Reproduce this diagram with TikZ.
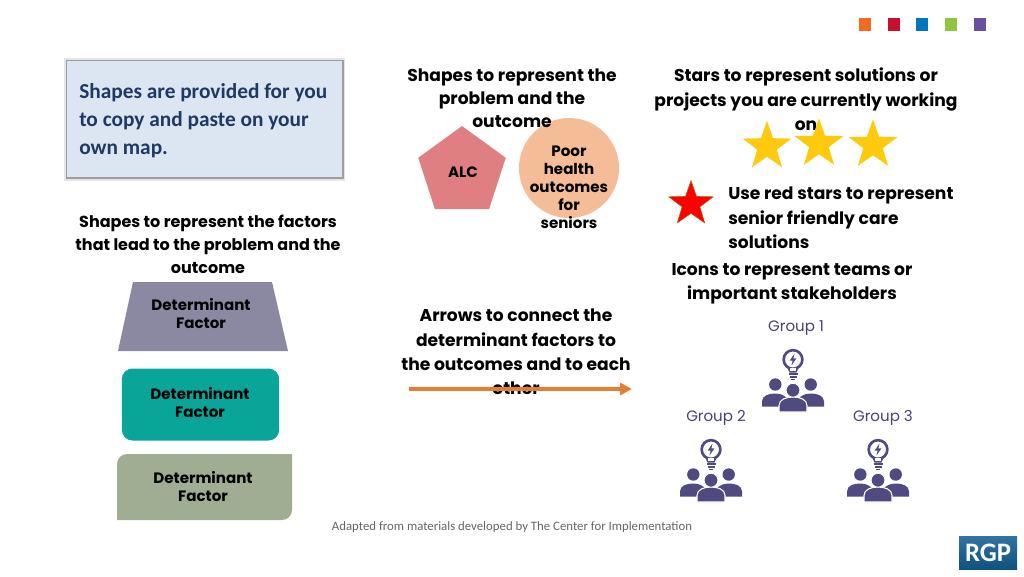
\documentclass[tikz,border=0pt]{standalone}
\usepackage{fontspec}
\setmainfont{Poppins}
\newfontfamily\boxfont{Carlito}
\usetikzlibrary{arrows.meta,shapes.geometric}
\definecolor{rgpInk}{HTML}{4F4A80}
\definecolor{rgpOrange}{HTML}{E57E32}
\definecolor{noteBlue}{HTML}{DCE6F2}
\definecolor{noteInk}{HTML}{1F3864}
\definecolor{trapGray}{HTML}{8B88A2}
\definecolor{roundTeal}{HTML}{09A598}
\definecolor{snipGreen}{HTML}{A0AD93}
\definecolor{pentRed}{HTML}{DF7F82}
\definecolor{circPeach}{HTML}{F4BC97}
\definecolor{starGold}{HTML}{FFC90E}
\definecolor{logoBlue}{HTML}{0F5A8E}
\tikzset{
    heading/.style={align=center,inner sep=0pt,font=\fontsize{12.85}{18.3}\selectfont\bfseries},
    smallheading/.style={align=center,inner sep=0pt,font=\fontsize{12}{17.25}\selectfont\bfseries},
    factorlabel/.style={align=center,inner sep=0pt,font=\fontsize{11.3}{13.5}\selectfont\bfseries},
    grouplabel/.style={inner sep=0pt,text=rgpInk!90!black,font=\fontsize{11.3}{13}\selectfont},
    goldstar/.style={star,star points=5,star point ratio=2.5,minimum size=38.5pt,inner sep=0pt,fill=starGold},
    tabsquare/.style={minimum size=9.5pt,inner sep=0pt},
    groupicon/.pic={
        \fill[rgpInk,even odd rule] (0,0) circle (10.7) (0,0) circle (8);
        \fill[rgpInk] (-5.5,8.5) -- (5.5,8.5) -- (3.5,13) -- (-3.5,13) -- cycle;
        \fill[white] (-3.2,8) rectangle (3.2,11.5);
        \fill[rgpInk] (-4.5,13.5) rectangle (4.5,15.2);
        \fill[rgpInk] (-3.5,16.4) rectangle (3.5,18);
        \fill[rgpInk] (-1.8,19.2) rectangle (1.8,20.6);
        \fill[rgpInk] (1.5,-6) -- (-3.4,1.2) -- (-0.4,1.2) -- (-1.5,6) -- (3.4,-1.2) -- (0.4,-1.2) -- cycle;
        \fill[rgpInk] (-17.7,25) circle (6.2);
        \fill[rgpInk] (17.7,25) circle (6.2);
        \fill[rgpInk] (-31,47) -- (-31,42) .. controls (-31,36) and (-24,34) .. (-18,34) .. controls (-12,34) and (-8,36) .. (-5,40) -- (-5,47) -- cycle;
        \fill[rgpInk] (31,47) -- (31,42) .. controls (31,36) and (24,34) .. (18,34) .. controls (12,34) and (8,36) .. (5,40) -- (5,47) -- cycle;
        \fill[rgpInk,draw=white,line width=0.8pt] (-14,52.5) -- (-14,46) .. controls (-14,40) and (-7,37.5) .. (0,37.5) .. controls (7,37.5) and (14,40) .. (14,46) -- (14,52.5) -- cycle;
        \fill[rgpInk,draw=white,line width=0.6pt] (0,30.7) circle (6.9);
    }
}
\begin{document}
\begin{tikzpicture}[x=0.75pt,y=-0.75pt]
        \useasboundingbox (0,0) rectangle (1024,576);
        % colour squares
        \foreach \tabx/\tabcol in {865/F26B21,894/C8102E,922/0077BB,951/8DC63F,980/66509F} {
            \definecolor{tabcolor}{HTML}{\tabcol}
            \node[tabsquare,fill=tabcolor] (tab\tabx) at (\tabx,24.5) {};
        }
        % note box
        \fill[black!10] (64,58) rectangle (345,181);
        \fill[black!38] (65.5,59.5) rectangle (343.5,179);
        \node[minimum width=206pt,minimum height=87pt,inner sep=0pt,fill=noteBlue] (notebox) at (204.5,119) {};
        \node[anchor=west,align=left,inner sep=0pt,text=noteInk,font=\boxfont\fontsize{16}{21}\selectfont\bfseries] (notetext) at (79,120.5) {Shapes are provided for you\\to copy and paste on your\\own map.};
        % factor shapes
        \node[smallheading] (factorhead) at (208,244) {Shapes to represent the factors\\that lead to the problem and the\\outcome};
        \fill[trapGray] (133,282) -- (272,282) -- (288,351) -- (118,351) -- cycle;
        \node[factorlabel] (trapfactor) at (201,314) {Determinant\\Factor};
        \node[rectangle,rounded corners=8pt,minimum width=118pt,minimum height=54pt,inner sep=0pt,fill=roundTeal] (roundfactor) at (200.5,404.5) {};
        \node[factorlabel] at (200,402.5) {Determinant\\Factor};
        \fill[snipGreen] (117,464) arc (180:270:10) -- (292,454) -- (292,510) arc (0:90:10) -- (117,520) -- cycle;
        \node[factorlabel] (snipfactor) at (203,486.5) {Determinant\\Factor};
        % problem and outcome
        \node[regular polygon,regular polygon sides=5,minimum size=69pt,inner sep=0pt,fill=pentRed] (problem) at (462,172) {};
        \node[factorlabel] (alc) at (463,172) {ALC};
        \node[circle,minimum size=75pt,inner sep=0pt,fill=circPeach] (outcome) at (569,168) {};
        \node[heading,font=\fontsize{12.85}{17.25}\selectfont\bfseries] (problemhead) at (512,98.5) {Shapes to represent the\\problem and the\\outcome};
        \node[factorlabel] (outcometext) at (569,187.5) {Poor\\health\\outcomes\\for\\seniors};
        % stars
        \node[heading] (starhead) at (806,99.5) {Stars to represent solutions or\\projects you are currently working\\on};
        \node[goldstar] (starone) at (767,146.5) {};
        \node[goldstar] (startwo) at (819,144) {};
        \node[goldstar] (starthree) at (873,145) {};
        \node[star,star points=5,star point ratio=2.5,minimum size=35pt,inner sep=0pt,fill=red,draw=orange!70!black,line width=0.4pt] (redstar) at (691,204) {};
        \node[heading,anchor=west,align=left] (redtext) at (728,218) {Use red stars to represent\\senior friendly care\\solutions};
        % arrow
        \node[heading] (arrowhead) at (516,352) {Arrows to connect the\\determinant factors to\\the outcomes and to each\\other};
        \coordinate (arrowstart) at (409,389);
        \coordinate (arrowend) at (632,389);
        \draw[rgpOrange,line width=2.6pt,-{Triangle[length=9pt,width=9pt]}] (arrowstart) -- (arrowend);
        % teams
        \node[heading] (teamhead) at (792,283.5) {Icons to represent teams or\\important stakeholders};
        \node[grouplabel] (groupone) at (796,328.5) {Group 1};
        \node[grouplabel] (grouptwo) at (716,418) {Group 2};
        \node[grouplabel] (groupthree) at (883,418) {Group 3};
        \pic at (793,359.5) {groupicon};
        \pic at (711,449.5) {groupicon};
        \pic at (878,449.5) {groupicon};
        % footer
        \node[inner sep=0pt,text=black!60,font=\boxfont\fontsize{9.6}{11}\selectfont] (footer) at (512,527) {Adapted from materials developed by The Center for Implementation};
        \node[minimum width=43.5pt,minimum height=25pt,inner sep=0pt,top color=logoBlue!85!white,bottom color=logoBlue!90!black,text=white,font=\boxfont\fontsize{20}{22}\selectfont\bfseries] (logo) at (988,553) {RGP};
    \end{tikzpicture}
\end{document}
